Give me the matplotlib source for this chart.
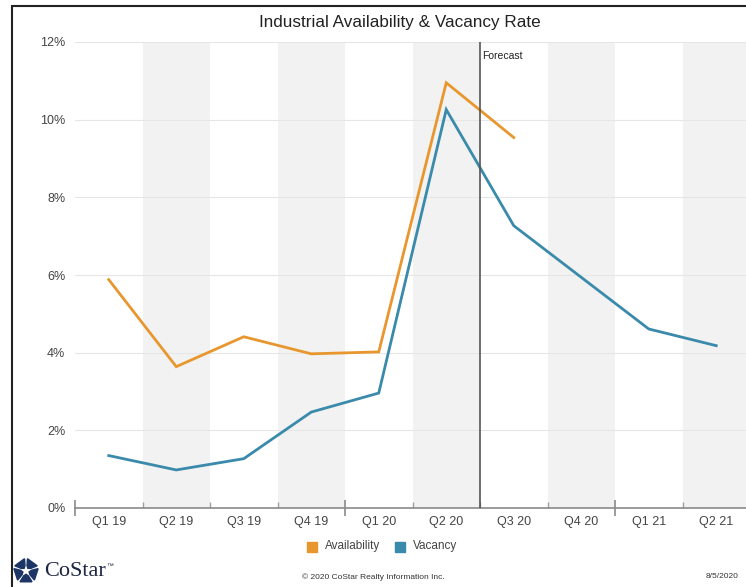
import numpy as np
import matplotlib.pyplot as plt
from matplotlib.patches import Rectangle, Polygon
from matplotlib.ticker import FixedLocator, FuncFormatter

plt.rcParams['font.family'] = ['Liberation Sans', 'DejaVu Sans']

quarters = ["Q1 19", "Q2 19", "Q3 19", "Q4 19", "Q1 20",
            "Q2 20", "Q3 20", "Q4 20", "Q1 21", "Q2 21"]
availability = [5.88, 3.64, 4.41, 3.97, 4.02, 10.95, 9.54]
vacancy = [1.35, 0.98, 1.27, 2.47, 2.96, 10.26, 7.27, 5.94, 4.61, 4.18]
forecast_at = 6  # boundary between Q2 20 and Q3 20

orange = "#e8972f"
blue = "#3a8aab"
txt = "#444444"

W, H = 746, 587
fig = plt.figure(figsize=(W / 100, H / 100), dpi=100)

# outer frame (cut off on the right and bottom like the screenshot)
fig.patches.append(Rectangle((12 / W, -0.1), 1.2, 1 - 6 / H + 0.1,
                             transform=fig.transFigure, fill=False,
                             edgecolor="#222222", linewidth=1.5))

ax = fig.add_axes([75 / W, 1 - 508 / H, 675 / W, 466 / H])
ax.set_xlim(0, len(quarters))
ax.set_ylim(0, 12)

for i in range(1, len(quarters), 2):
    ax.axvspan(i, i + 1, color="#f2f2f2", zorder=0, lw=0)
for y in range(2, 13, 2):
    ax.axhline(y, color="#e6e6e6", lw=0.8, zorder=1)

x = np.arange(len(quarters)) + 0.5
ax.plot(x[:len(availability)], availability, color=orange, lw=2, zorder=3,
        solid_joinstyle="miter")
ax.plot(x, vacancy, color=blue, lw=2, zorder=3, solid_joinstyle="miter")

ax.axvline(forecast_at, color="#555555", lw=1.2, zorder=4)
ax.text(forecast_at + 0.03, 11.65, "Forecast", fontsize=7.5, color="#222222",
        va="center", ha="left")

for s in ["top", "right", "left"]:
    ax.spines[s].set_visible(False)
ax.spines["bottom"].set_color("#8a8a8a")
ax.spines["bottom"].set_linewidth(1.2)

ax.yaxis.set_major_locator(FixedLocator(range(0, 13, 2)))
ax.yaxis.set_major_formatter(FuncFormatter(lambda v, p: f"{v:.0f}%"))
ax.tick_params(axis="y", length=0, pad=7, labelsize=9, labelcolor=txt)

ax.set_xticks([0, 4, 8])
ax.set_xticklabels([])
ax.set_xticks(range(1, len(quarters)), minor=True)
ax.tick_params(axis="x", which="major", direction="inout", length=12,
               width=1.2, color="#8a8a8a")
ax.tick_params(axis="x", which="minor", direction="in", length=4,
               width=1, color="#a0a0a0")
for xi, q in zip(x, quarters):
    ax.text(xi, -0.2, q, ha="center", va="top", fontsize=9,
            color=txt, clip_on=False)

fig.text(400 / W, 1 - 22 / H, "Industrial Availability & Vacancy Rate",
         ha="center", va="center", fontsize=12.3, color="#222222")

# legend
for px, col, lab in [(312, orange, "Availability"), (399.5, blue, "Vacancy")]:
    fig.patches.append(Rectangle(((px - 5) / W, 1 - 551.5 / H), 10 / W, 10 / H,
                                 transform=fig.transFigure, color=col))
    fig.text((px + 13) / W, 1 - 546 / H, lab, ha="left", va="center",
             fontsize=8.5, color=txt)

# footer
fig.text(373 / W, 1 - 577 / H, "\u00a9 2020 CoStar Realty Information Inc.",
         ha="center", va="center", fontsize=6, color="#333333")
fig.text(738 / W, 1 - 577 / H, "8/5/2020", ha="right", va="center",
         fontsize=6, color="#333333")

# CoStar logo: five pieces around a star
lax = fig.add_axes([13 / W, 1 - 584 / H, 26 / W, 26 / H])
lax.set_xlim(-1, 1)
lax.set_ylim(-1, 1)
lax.set_aspect("equal")
lax.axis("off")
for k in range(5):
    a = np.deg2rad(90 + 72 * k)
    b = a + np.deg2rad(72)
    m = (a + b) / 2
    pts = [(0.42 * np.cos(a + 0.18), 0.42 * np.sin(a + 0.18)),
           (0.95 * np.cos(a + 0.12), 0.95 * np.sin(a + 0.12)),
           (0.95 * np.cos(b - 0.12), 0.95 * np.sin(b - 0.12)),
           (0.42 * np.cos(b - 0.18), 0.42 * np.sin(b - 0.18)),
           (0.25 * np.cos(m), 0.25 * np.sin(m))]
    lax.add_patch(Polygon(pts, closed=True, color="#1d3566"))
fig.text(44 / W, 1 - 572 / H, "CoStar", ha="left", va="center",
         fontsize=16, family=["Liberation Serif", "DejaVu Serif"],
         color="#1d2540")
fig.text(106 / W, 1 - 567 / H, "\u2122", ha="left", va="center",
         fontsize=5, color="#1d2540")

fig.savefig("out.png", dpi=100)
